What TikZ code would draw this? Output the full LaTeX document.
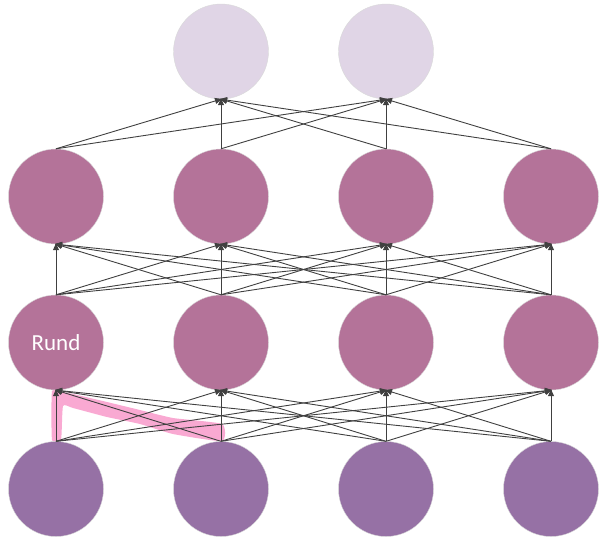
\documentclass[tikz,border=0pt]{standalone}
\usepackage{fontspec}
\setmainfont{Carlito}
\usetikzlibrary{arrows.meta}
\definecolor{botc}{HTML}{9671A5}
\definecolor{midc}{HTML}{B47399}
\definecolor{topc}{HTML}{E0D5E6}
\definecolor{hlc}{HTML}{F9A9D2}
\definecolor{edgec}{HTML}{404040}
\tikzset{
  neuron/.style={circle,minimum size=95pt,inner sep=0pt,draw=white!85!black,line width=0.4pt},
  bottomn/.style={neuron,fill=botc},
  midn/.style={neuron,fill=midc},
  topn/.style={neuron,fill=topc},
  conn/.style={draw=edgec,line width=0.9pt,-{Triangle[length=7pt,width=6pt]},shorten >=-1pt},
  lbl/.style={text=white,font=\fontsize{23}{25}\selectfont}
}
\begin{document}
\begin{tikzpicture}[x=1pt,y=-1pt]
\useasboundingbox (0,0) rectangle (599,536);
% highlight
\fill[hlc] plot[smooth cycle,tension=0.3] coordinates {
 (52,391) (62,392) (73,394) (107,402) (140,410) (173,418) (222,424)
 (222,441) (173,434) (140,424) (107,417) (73,408) (63,406)
 (61,440) (52,440)};
% neurons
\foreach \i/\x in {1/56,2/221,3/386,4/551}{
  \node[bottomn] (b\i) at (\x,489) {};
  \node[midn] (r\i) at (\x,342.5) {};
  \node[midn] (m\i) at (\x,196.5) {};
}
\node[topn] (t1) at (221,51.5) {};
\node[topn] (t2) at (386,51.5) {};
\node[lbl] at (r1) {Rund};
% connections
\foreach \i in {1,...,4}{
  \foreach \j in {1,...,4}{
    \draw[conn] (b\i.north) -- (r\j.south);
    \draw[conn] (r\i.north) -- (m\j.south);
  }
  \draw[conn] (m\i.north) -- (t1.south);
  \draw[conn] (m\i.north) -- (t2.south);
}
\end{tikzpicture}
\end{document}
